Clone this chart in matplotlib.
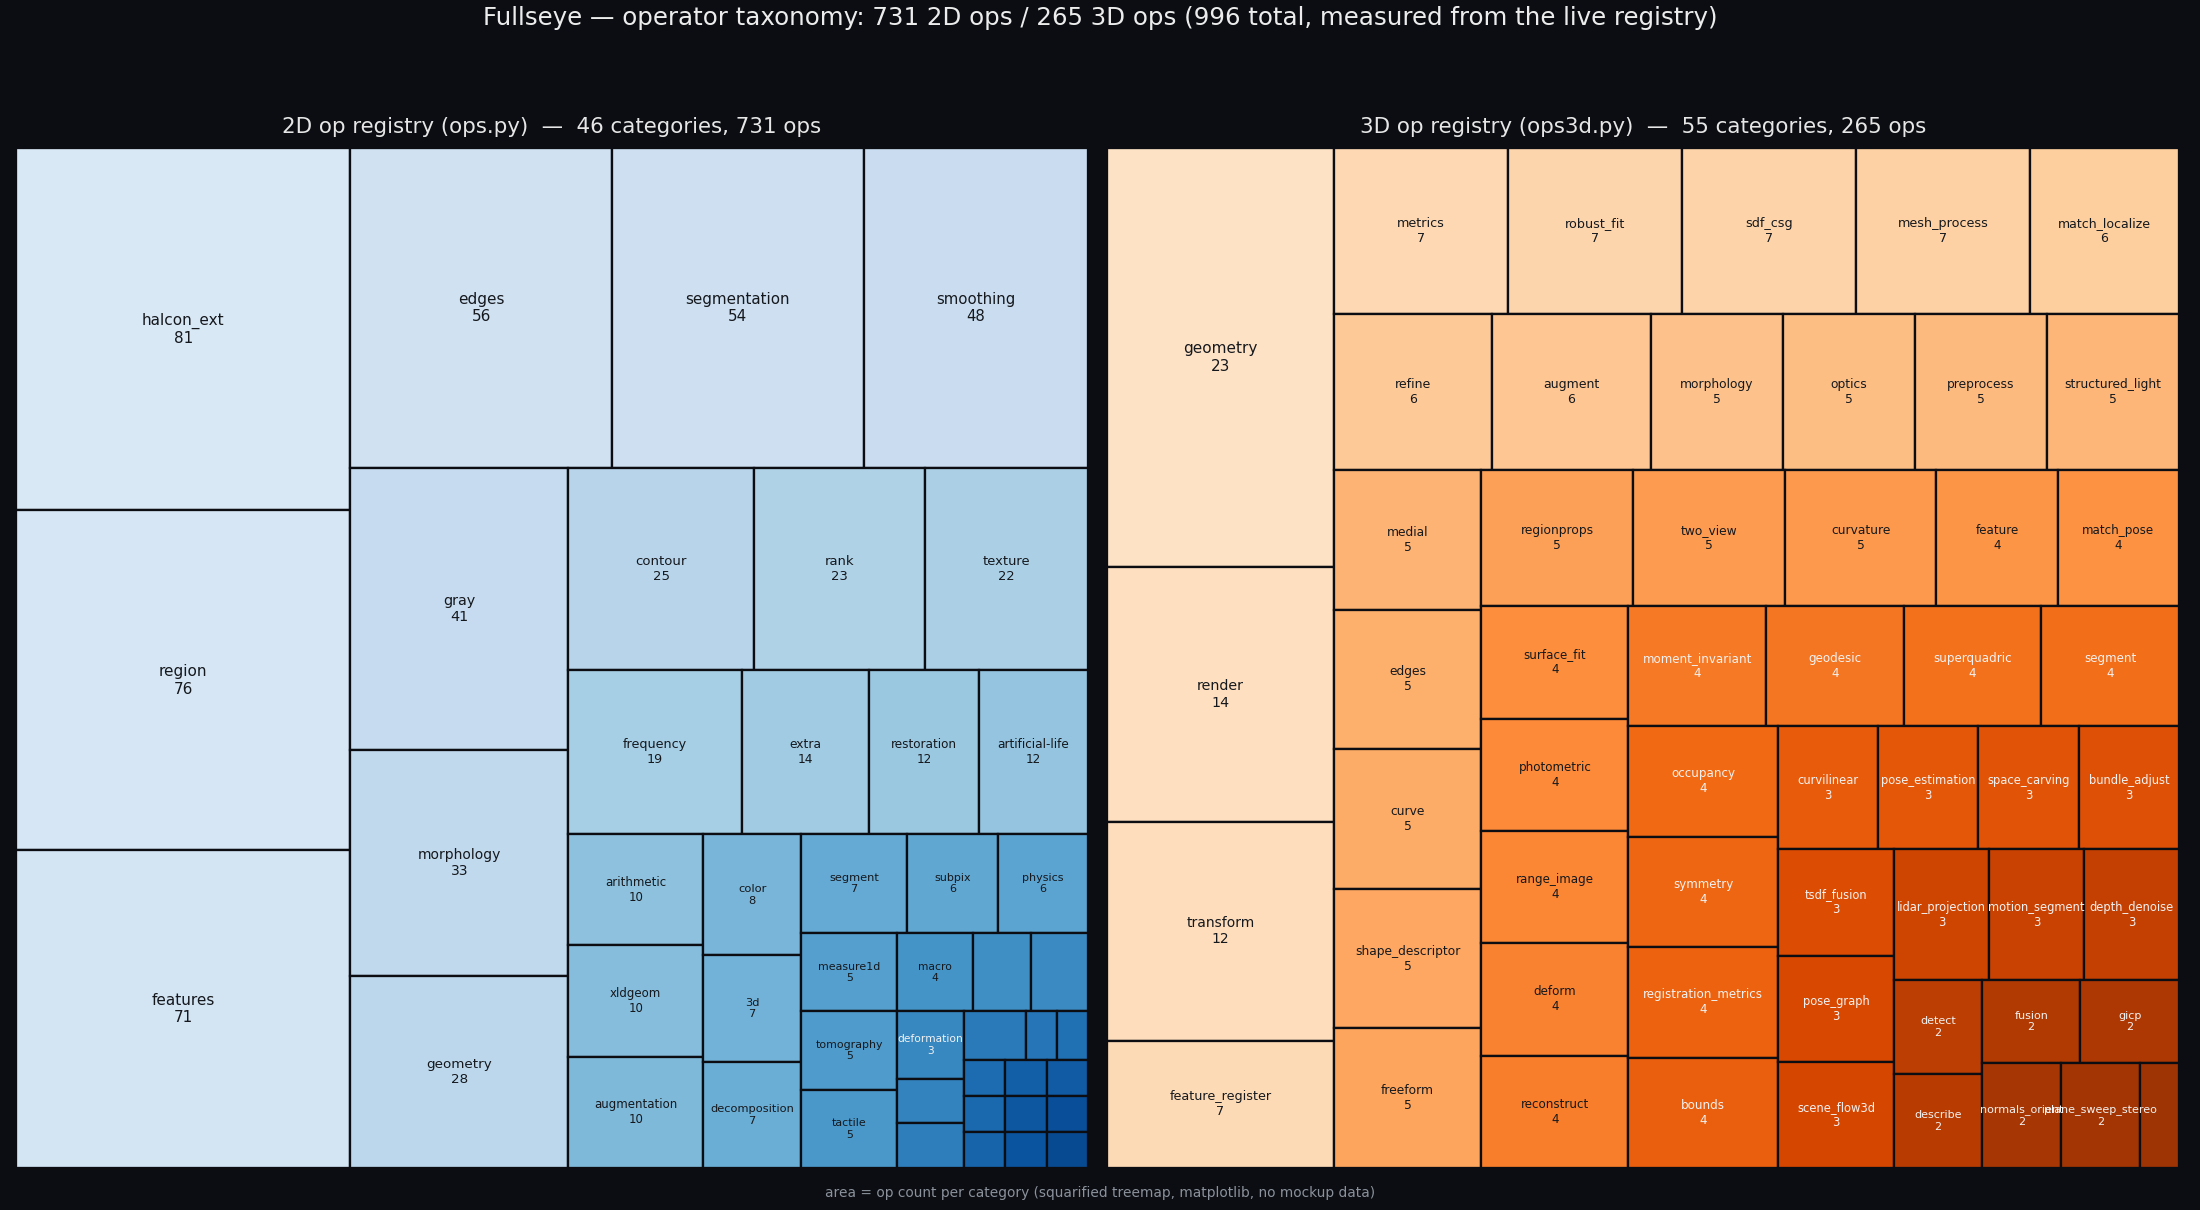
import matplotlib
matplotlib.use("Agg")
import matplotlib.pyplot as plt
from matplotlib.patches import Rectangle
import numpy as np

BG = "#0b0d12"

# ---------------- data ----------------
cats_2d = ["halcon_ext", "region", "features", "edges", "segmentation", "smoothing",
           "gray", "morphology", "geometry", "contour", "rank", "texture",
           "frequency", "extra", "restoration", "artificial-life",
           "arithmetic", "xldgeom", "augmentation", "color", "3d", "decomposition",
           "segment", "subpix", "physics", "measure1d", "tomography", "tactile",
           "macro", "calib", "ocr", "deformation", "fft", "blob", "matching",
           "io", "draw", "lut", "noise", "stats", "hough", "mask", "pyramid",
           "warp", "label", "misc"]
vals_2d = [81, 76, 71, 56, 54, 48,
           41, 33, 28, 25, 23, 22,
           19, 14, 12, 12,
           10, 10, 10, 8, 7, 7,
           7, 6, 6, 5, 5, 5,
           4, 3, 3, 3, 2, 2, 2,
           1, 1, 1, 1, 1, 1, 1, 1,
           1, 1, 1]

cats_3d = ["geometry", "render", "transform", "feature_register",
           "metrics", "robust_fit", "sdf_csg", "mesh_process", "match_localize",
           "refine", "augment", "morphology", "optics", "preprocess", "structured_light",
           "medial", "edges", "curve", "shape_descriptor", "freeform",
           "regionprops", "two_view", "curvature", "feature", "match_pose",
           "surface_fit", "photometric", "range_image", "deform", "reconstruct",
           "moment_invariant", "geodesic", "superquadric", "segment",
           "occupancy", "symmetry", "registration_metrics", "bounds",
           "curvilinear", "pose_estimation", "space_carving", "bundle_adjust",
           "tsdf_fusion", "pose_graph", "scene_flow3d",
           "lidar_projection", "motion_segment", "depth_denoise",
           "detect", "describe", "fusion", "gicp",
           "normals_orient", "plane_sweep_stereo", "io"]
vals_3d = [23, 14, 12, 7,
           7, 7, 7, 7, 6,
           6, 6, 5, 5, 5, 5,
           5, 5, 5, 5, 5,
           5, 5, 5, 4, 4,
           4, 4, 4, 4, 4,
           4, 4, 4, 4,
           4, 4, 4, 4,
           3, 3, 3, 3,
           3, 3, 3,
           3, 3, 3,
           2, 2, 2, 2,
           2, 2, 1]

title_main = ("Fullseye \u2014 operator taxonomy: 731 2D ops / 265 3D ops "
              "(996 total, measured from the live registry)")
title_2d = "2D op registry (ops.py)  \u2014  46 categories, 731 ops"
title_3d = "3D op registry (ops3d.py)  \u2014  55 categories, 265 ops"
footer = "area = op count per category (squarified treemap, matplotlib, no mockup data)"


# ---------------- squarify ----------------
def _layoutrow(sizes, x, y, dx, dy):
    width = sum(sizes) / dy
    rects = []
    for s in sizes:
        rects.append((x, y, width, s / width))
        y += s / width
    return rects


def _layoutcol(sizes, x, y, dx, dy):
    height = sum(sizes) / dx
    rects = []
    for s in sizes:
        rects.append((x, y, s / height, height))
        x += s / height
    return rects


def _layout(sizes, x, y, dx, dy):
    return _layoutrow(sizes, x, y, dx, dy) if dx >= dy else _layoutcol(sizes, x, y, dx, dy)


def _leftover(sizes, x, y, dx, dy):
    if dx >= dy:
        width = sum(sizes) / dy
        return x + width, y, dx - width, dy
    height = sum(sizes) / dx
    return x, y + height, dx, dy - height


def _worst(sizes, x, y, dx, dy):
    return max(max(r[2] / r[3], r[3] / r[2]) for r in _layout(sizes, x, y, dx, dy))


def squarify(sizes, x, y, dx, dy):
    sizes = list(map(float, sizes))
    if not sizes:
        return []
    if len(sizes) == 1:
        return _layout(sizes, x, y, dx, dy)
    i = 1
    while i < len(sizes) and _worst(sizes[:i], x, y, dx, dy) >= _worst(sizes[:i + 1], x, y, dx, dy):
        i += 1
    cur, rem = sizes[:i], sizes[i:]
    lx, ly, ldx, ldy = _leftover(cur, x, y, dx, dy)
    return _layout(cur, x, y, dx, dy) + squarify(rem, lx, ly, ldx, ldy)


def draw_treemap(ax, cats, vals, cmap_name, title):
    W = H = 100.0
    total = float(sum(vals))
    sizes = [v * W * H / total for v in vals]
    rects = squarify(sizes, 0, 0, W, H)
    cmap = plt.get_cmap(cmap_name)
    n = len(vals)
    shades = np.linspace(0.15, 0.90, n)
    for i, ((x, y, w, h), name, v) in enumerate(zip(rects, cats, vals)):
        col = cmap(shades[i])
        ax.add_patch(Rectangle((x, y), w, h, facecolor=col, edgecolor=BG, linewidth=1.5))
        if w > 5.8 and h > 5.0:
            frac = v / total
            fs = min(10.0, 6.0 + 14.5 * np.sqrt(frac))
            tc = "#f2f2f2" if (col[0] + col[1] + col[2]) / 3.0 < 0.54 else "#15181d"
            ax.text(x + w / 2, y + h / 2, f"{name}\n{v}", ha="center", va="center",
                    fontsize=fs, color=tc)
    ax.set_xlim(0, W)
    ax.set_ylim(H, 0)
    ax.axis("off")
    ax.set_title(title, color="#e6e6e6", fontsize=14, pad=10)


fig = plt.figure(figsize=(20, 11), dpi=110, facecolor=BG)
ax1 = fig.add_axes([0.00727, 0.0347, 0.4873, 0.843])
ax2 = fig.add_axes([0.5032, 0.0347, 0.4873, 0.843])
for a in (ax1, ax2):
    a.set_facecolor(BG)

draw_treemap(ax1, cats_2d, vals_2d, "Blues", title_2d)
draw_treemap(ax2, cats_3d, vals_3d, "Oranges", title_3d)

fig.text(0.5, 0.9793, title_main, ha="center", va="baseline", fontsize=16, color="#ececec")
fig.text(0.5, 0.0107, footer, ha="center", va="baseline", fontsize=9, color="#8b929c")

fig.savefig("out.png", dpi=110, facecolor=BG)
